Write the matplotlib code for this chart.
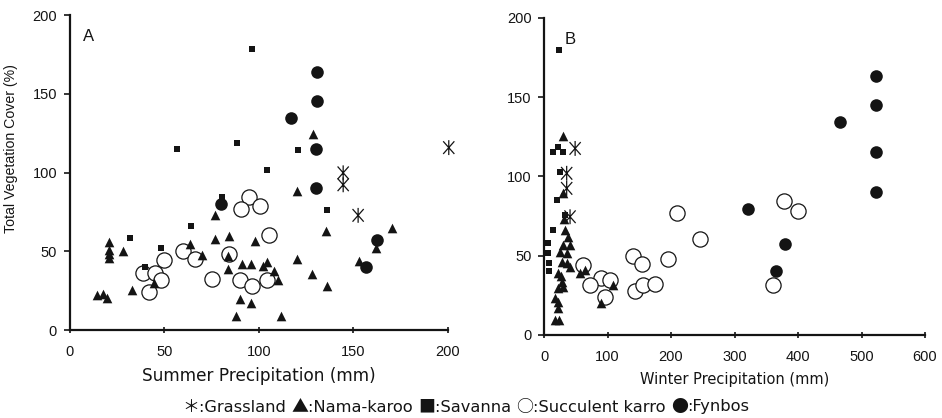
import matplotlib
matplotlib.use("Agg")
import matplotlib.pyplot as plt
from matplotlib.path import Path

plt.rcParams['font.family'] = ['Liberation Sans', 'DejaVu Sans']

# ---------------- Panel A : Summer precipitation ----------------
grass_a_x = [200.4, 144.6, 144.6, 152.5]
grass_a_y = [115.8, 99.8, 92.2, 72.8]

nama_a_x = [128.4, 120.3, 76.8, 135.6, 170.4, 21.0, 21.0, 21.0, 21.0, 28.0,
            63.5, 70.1, 76.8, 84.2, 98.1, 83.8, 83.8, 90.9, 95.8, 102.0,
            104.3, 108.1, 110.3, 120.0, 128.2, 135.8, 152.9, 161.7, 14.7, 17.5,
            19.6, 32.8, 44.8, 90.0, 95.8, 87.8, 112.0]
nama_a_y = [124.5, 88.2, 73.2, 62.9, 64.6, 55.9, 50.6, 48.0, 46.0, 50.2,
            54.9, 47.5, 57.8, 59.5, 56.5, 46.8, 39.0, 41.6, 42.2, 40.5,
            43.2, 37.5, 31.6, 45.1, 35.4, 28.0, 43.7, 52.3, 22.2, 22.6,
            20.1, 25.3, 29.9, 19.6, 16.9, 9.1, 9.1]

sav_a_x = [96.5, 56.6, 88.4, 120.5, 104.4, 80.4, 136.3, 64.2, 32.1, 48.1, 40.0]
sav_a_y = [178.7, 115.0, 118.8, 114.4, 101.5, 84.4, 76.1, 65.8, 58.2, 52.1, 40.3]

succ_a_x = [94.8, 90.4, 100.4, 105.2, 59.9, 66.1, 49.7, 84.2, 39.0, 45.3,
            48.1, 42.1, 75.1, 90.0, 96.2, 104.1]
succ_a_y = [84.4, 77.0, 78.7, 60.6, 50.2, 45.1, 44.3, 48.1, 36.3, 35.9,
            31.6, 24.2, 32.1, 31.6, 28.0, 31.6]

fyn_a_x = [130.7, 130.7, 116.8, 130.2, 130.2, 80.1, 162.5, 156.4]
fyn_a_y = [163.7, 145.6, 134.6, 115.0, 90.1, 80.2, 57.0, 40.1]

# ---------------- Panel B : Winter precipitation ----------------
grass_b_x = [49.0, 35.7, 35.7, 41.0]
grass_b_y = [117.7, 102.0, 92.5, 74.6]

nama_b_x = [30.4, 30.0, 32.0, 33.0, 38.0, 30.0, 41.0, 25.0, 36.0, 28.0,
            35.7, 41.0, 22.5, 56.7, 64.6, 28.0, 22.5, 17.3, 22.5, 22.5,
            18.0, 24.0, 109.0, 89.8, 30.4, 26.3]
nama_b_y = [125.5, 89.3, 73.0, 66.2, 62.0, 56.7, 56.7, 52.5, 51.5, 46.2,
            45.2, 43.1, 38.9, 38.9, 41.0, 33.6, 29.4, 23.1, 21.0, 16.8,
            9.5, 9.5, 31.5, 20.0, 30.1, 37.2]

sav_b_x = [24.0, 13.6, 21.5, 29.4, 25.0, 20.0, 33.0, 14.7, 6.8, 6.8, 8.0, 7.5]
sav_b_y = [179.7, 115.6, 118.7, 115.6, 103.0, 85.1, 75.7, 66.2, 57.8, 51.5, 40.5, 45.2]

succ_b_x = [377.4, 400.5, 210.0, 245.2, 139.6, 153.8, 195.3, 62.0, 89.3, 104.0,
            72.4, 96.0, 143.8, 155.4, 174.8, 361.2]
succ_b_y = [84.7, 78.4, 76.7, 60.7, 50.0, 44.6, 47.7, 44.1, 35.7, 34.7,
            31.5, 24.1, 27.9, 31.5, 32.0, 31.5]

fyn_b_x = [522, 522, 466, 522, 522, 320.7, 379.5, 364.8]
fyn_b_y = [163.5, 145.4, 134.5, 115.2, 90.0, 79.4, 57.2, 40.5]

x_ticks_a = [0, 50, 100, 150, 200]
x_ticks_b = [0, 100, 200, 300, 400, 500, 600]
y_ticks = [0, 50, 100, 150, 200]

legend_symbols = ['\uFF0A', '\u25B2', '\u25A0', '\u25CB', '\u25CF']
legend_names = ['Grassland', 'Nama-karoo', 'Savanna', 'Succulent karro', 'Fynbos']

INK = '#141414'
CJK = ['Noto Sans CJK JP', 'DejaVu Sans']
WIDE = ['DejaVu Sans']

# asterisk marker: vertical stroke plus a steep X
STAR = Path([(0, -1), (0, 1), (-0.75, -0.85), (0.75, 0.85), (-0.75, 0.85), (0.75, -0.85)],
            [Path.MOVETO, Path.LINETO, Path.MOVETO, Path.LINETO, Path.MOVETO, Path.LINETO])

fig = plt.figure(figsize=(9.42, 4.18), dpi=100)
axA = fig.add_axes([0.0738, 0.2105, 0.4018, 0.7536])
axB = fig.add_axes([0.5775, 0.1986, 0.4045, 0.7584])


def draw(ax, gx, gy, nx, ny, sx, sy, cx, cy, fx, fy):
    ax.scatter(cx, cy, s=120, facecolors='white', edgecolors=INK, linewidths=0.9,
               zorder=2, clip_on=False)
    ax.scatter(nx, ny, s=48, marker='^', color=INK, linewidths=0, zorder=3, clip_on=False)
    ax.scatter(sx, sy, s=24, marker='s', color=INK, linewidths=0, zorder=3, clip_on=False)
    ax.scatter(fx, fy, s=82, marker='o', color=INK, linewidths=0, zorder=3, clip_on=False)
    ax.scatter(gx, gy, s=115, marker=STAR, facecolors='none', edgecolors=INK,
               linewidths=0.9, zorder=3, clip_on=False)


draw(axA, grass_a_x, grass_a_y, nama_a_x, nama_a_y, sav_a_x, sav_a_y,
     succ_a_x, succ_a_y, fyn_a_x, fyn_a_y)
draw(axB, grass_b_x, grass_b_y, nama_b_x, nama_b_y, sav_b_x, sav_b_y,
     succ_b_x, succ_b_y, fyn_b_x, fyn_b_y)

for ax, xt in ((axA, x_ticks_a), (axB, x_ticks_b)):
    ax.set_xlim(xt[0], xt[-1])
    ax.set_ylim(0, 200)
    ax.set_xticks(xt)
    ax.set_yticks(y_ticks)
    for sp in ('top', 'right'):
        ax.spines[sp].set_visible(False)
    for sp in ('left', 'bottom'):
        ax.spines[sp].set_linewidth(1.6)
        ax.spines[sp].set_color(INK)
    ax.tick_params(axis='x', direction='inout', length=5, width=1.2, colors=INK,
                   labelsize=10.5, pad=8)
    ax.tick_params(axis='y', direction='out', length=4, width=1.2, colors=INK,
                   labelsize=10.5, pad=5)
    ax.patch.set_alpha(0)

axA.text(0.035, 0.955, 'A', transform=axA.transAxes, fontsize=12, color=INK,
         va='top', ha='left')
axB.text(0.055, 0.955, 'B', transform=axB.transAxes, fontsize=12, color=INK,
         va='top', ha='left')

axA.set_xlabel('Summer Precipitation (mm)', fontsize=12.2, color=INK, labelpad=6,
               family=WIDE)
axB.set_xlabel('Winter Precipitation (mm)', fontsize=10.5, color=INK, labelpad=6,
               family=WIDE)
axA.set_ylabel('Total Vegetation Cover (%)', fontsize=10.2, color=INK)
axA.yaxis.set_label_coords(-0.135, 0.575)

# legend line built from pieces: full-width symbols + text
renderer = fig.canvas.get_renderer()
pieces = []
for i, (sym, name) in enumerate(zip(legend_symbols, legend_names)):
    pieces.append((sym, CJK, 12.2))
    pieces.append((':' + name + (' ' if i < len(legend_names) - 1 else ''), WIDE, 11.7))

widths = []
for txt, fam, fs in pieces:
    t = fig.text(0, 0, txt, fontsize=fs, family=fam)
    widths.append(t.get_window_extent(renderer).width)
    t.remove()
total = sum(widths)
x = 466 - total / 2.0
y0 = 418 - 407
for (txt, fam, fs), w in zip(pieces, widths):
    fig.text(x / 942.0, y0 / 418.0, txt, fontsize=fs, family=fam, color=INK,
             ha='left', va='center')
    x += w

fig.savefig('out.png', dpi=100, facecolor='white')
